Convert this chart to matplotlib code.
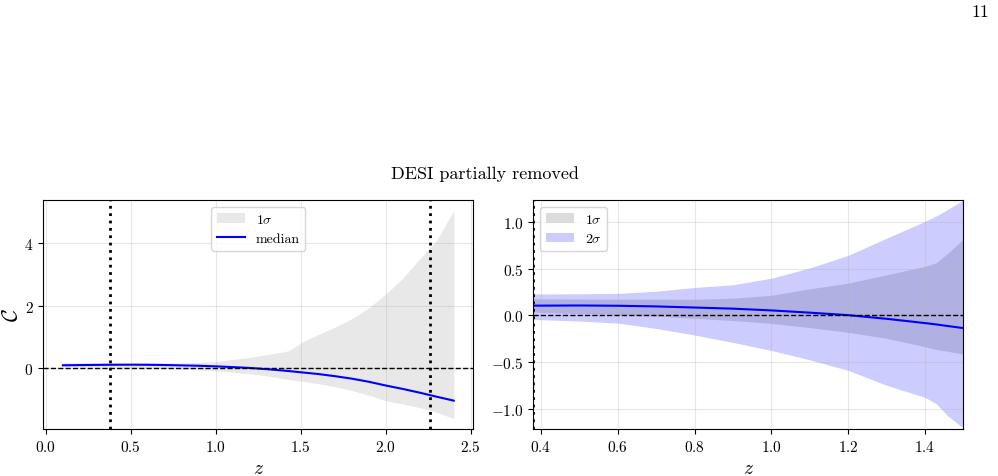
import matplotlib
matplotlib.use("Agg")
import numpy as np
import matplotlib.pyplot as plt

plt.rcParams["font.family"] = "serif"
plt.rcParams["font.serif"] = ["cmr10"]
plt.rcParams["mathtext.fontset"] = "cm"
plt.rcParams["axes.formatter.use_mathtext"] = True
plt.rcParams["axes.unicode_minus"] = True

# redshift grid and reconstructed C(z)
z = np.array([0.1, 0.2, 0.3, 0.38, 0.5, 0.6, 0.7, 0.8, 0.9, 1.0, 1.1, 1.2, 1.3,
              1.4, 1.43, 1.46, 1.5, 1.6, 1.7, 1.8, 1.9, 2.0, 2.1, 2.2, 2.3, 2.4])
median = np.array([0.088, 0.095, 0.101, 0.105, 0.107, 0.104, 0.097, 0.085, 0.073,
                   0.054, 0.03, 0.003, -0.036, -0.082, -0.097, -0.114, -0.136,
                   -0.19, -0.26, -0.34, -0.44, -0.56, -0.67, -0.79, -0.92, -1.045])
up1 = np.array([0.175, 0.174, 0.173, 0.172, 0.171, 0.17, 0.169, 0.168, 0.18, 0.21,
                0.28, 0.34, 0.43, 0.52, 0.56, 0.66, 0.81, 1.07, 1.31, 1.58, 1.93,
                2.37, 2.88, 3.5, 4.1, 5.05])
lo1 = np.array([0.045, 0.04, 0.035, 0.03, 0.015, 0.007, -0.012, -0.036, -0.06,
                -0.09, -0.135, -0.186, -0.25, -0.34, -0.37, -0.39, -0.42, -0.5,
                -0.6, -0.72, -0.87, -1.05, -1.15, -1.27, -1.42, -1.62])

# 2 sigma band, only on the zoomed range 0.38 - 1.5
z2 = z[3:17]
up2 = np.array([0.23, 0.233, 0.237, 0.26, 0.30, 0.33, 0.40, 0.51, 0.645, 0.83,
                1.01, 1.07, 1.14, 1.24])
lo2 = np.array([-0.043, -0.06, -0.082, -0.14, -0.21, -0.29, -0.376, -0.477,
                -0.59, -0.75, -0.88, -0.95, -1.08, -1.21])

z_min, z_max = 0.38, 2.26

fig = plt.figure(figsize=(9.98, 4.77), dpi=100)
ax1 = fig.add_axes([0.0434, 0.0985, 0.4309, 0.4801])
ax2 = fig.add_axes([0.5344, 0.0985, 0.4309, 0.4801])

# left panel
ax1.fill_between(z, lo1, up1, color="lightgray", alpha=0.5, lw=0, label=r"$1\sigma$")
ax1.plot(z, median, color="blue", lw=1.5, label="median")
ax1.axhline(0, color="black", ls="--", lw=1)
ax1.axvline(z_min, color="black", ls=":", lw=2)
ax1.axvline(z_max, color="black", ls=":", lw=2)
ax1.set_xticks([0.0, 0.5, 1.0, 1.5, 2.0, 2.5])
ax1.set_yticks([0, 2, 4])
ax1.set_xlabel(r"$z$", fontsize=14)
ax1.set_ylabel(r"$\mathcal{C}$", fontsize=16, labelpad=2)
ax1.grid(alpha=0.3)
ax1.legend(loc="upper center", fontsize=10)

# right panel
ax2.fill_between(z, lo1, up1, color="gray", alpha=0.27, lw=0, label=r"$1\sigma$")
ax2.fill_between(z2, lo2, up2, color="blue", alpha=0.2, lw=0, label=r"$2\sigma$")
ax2.plot(z, median, color="blue", lw=1.5)
ax2.axhline(0, color="black", ls="--", lw=1)
ax2.axvline(z_min, color="black", ls=":", lw=2)
ax2.set_xlim(0.38, 1.5)
ax2.set_ylim(-1.22, 1.24)
ax2.set_xlabel(r"$z$", fontsize=14)
ax2.grid(alpha=0.3)
ax2.legend(loc="upper left", fontsize=10)

for ax in (ax1, ax2):
    ax.tick_params(labelsize=11)

fig.text(0.486, 0.635, "DESI partially removed", ha="center", va="center", fontsize=13)
fig.text(0.982, 0.975, "11", ha="center", va="center", fontsize=13)

fig.savefig("out.png", dpi=100)
